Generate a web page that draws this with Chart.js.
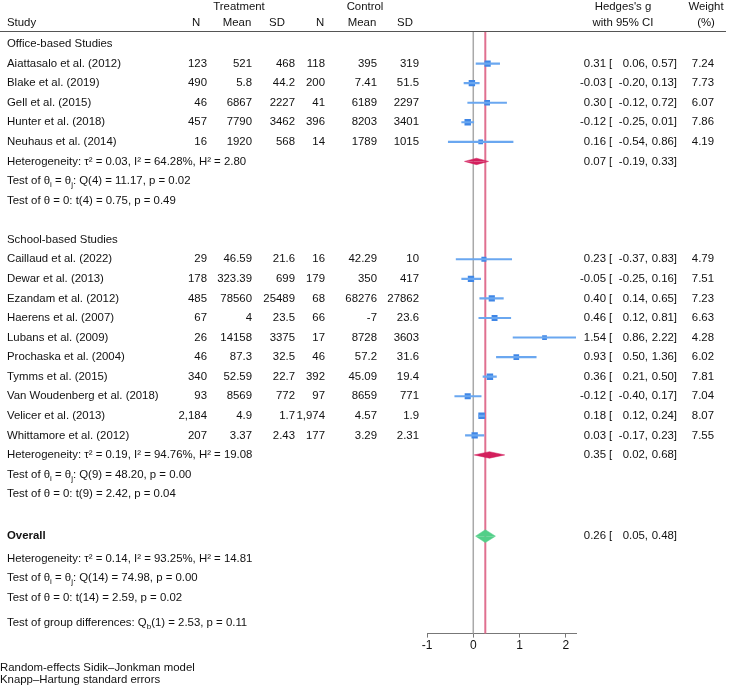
<!DOCTYPE html>
<html>
<head>
<meta charset="utf-8">
<script src="https://cdn.jsdelivr.net/npm/chart.js@4.4.1/dist/chart.umd.min.js"></script>
<style>
  html, body { margin: 0; padding: 0; background: #fff; }
  #wrap { width: 729px; height: 687px; }
</style>
</head>
<body>
<div id="wrap"><canvas id="forest" width="729" height="687"></canvas></div>
<script>
// Study data
const studies = [
  "Aiattasalo et al. (2012)", "Blake et al. (2019)", "Gell et al. (2015)",
  "Hunter et al. (2018)", "Neuhaus et al. (2014)",
  "Caillaud et al. (2022)", "Dewar et al. (2013)", "Ezandam et al. (2012)",
  "Haerens et al. (2007)", "Lubans et al. (2009)", "Prochaska et al. (2004)",
  "Tymms et al. (2015)", "Van Woudenberg et al. (2018)", "Velicer et al. (2013)",
  "Whittamore et al. (2012)"
];
const studyGroup = [0, 0, 0, 0, 0, 1, 1, 1, 1, 1, 1, 1, 1, 1, 1];
const treatN = ["123", "490", "46", "457", "16", "29", "178", "485", "67", "26", "46", "340", "93", "2,184", "207"];
const treatMean = ["521", "5.8", "6867", "7790", "1920", "46.59", "323.39", "78560", "4", "14158", "87.3", "52.59", "8569", "4.9", "3.37"];
const treatSD = ["468", "44.2", "2227", "3462", "568", "21.6", "699", "25489", "23.5", "3375", "32.5", "22.7", "772", "1.7", "2.43"];
const ctrlN = ["118", "200", "41", "396", "14", "16", "179", "68", "66", "17", "46", "392", "97", "1,974", "177"];
const ctrlMean = ["395", "7.41", "6189", "8203", "1789", "42.29", "350", "68276", "-7", "8728", "57.2", "45.09", "8659", "4.57", "3.29"];
const ctrlSD = ["319", "51.5", "2297", "3401", "1015", "10", "417", "27862", "23.6", "3603", "31.6", "19.4", "771", "1.9", "2.31"];
const hedgesG = [0.31, -0.03, 0.30, -0.12, 0.16, 0.23, -0.05, 0.40, 0.46, 1.54, 0.93, 0.36, -0.12, 0.18, 0.03];
const ciLow = [0.06, -0.20, -0.12, -0.25, -0.54, -0.37, -0.25, 0.14, 0.12, 0.86, 0.50, 0.21, -0.40, 0.12, -0.17];
const ciHigh = [0.57, 0.13, 0.72, 0.01, 0.86, 0.83, 0.16, 0.65, 0.81, 2.22, 1.36, 0.50, 0.17, 0.24, 0.23];
const weights = [7.24, 7.73, 6.07, 7.86, 4.19, 4.79, 7.51, 7.23, 6.63, 4.28, 6.02, 7.81, 7.04, 8.07, 7.55];

// Subgroup and overall summaries
const groups = ["Office-based Studies", "School-based Studies"];
const groupG = [0.07, 0.35];
const groupLow = [-0.19, 0.02];
const groupHigh = [0.33, 0.68];
const groupHet = [["0.03", "64.28", "2.80"], ["0.19", "94.76", "19.08"]];
const groupQ = [["4", "11.17", "0.02"], ["9", "48.20", "0.00"]];
const groupT = [["4", "0.75", "0.49"], ["9", "2.42", "0.04"]];
const overall = [0.26, 0.05, 0.48];
const overallHet = ["0.14", "93.25", "14.81"];
const overallQ = ["14", "74.98", "0.00"];
const overallT = ["14", "2.59", "0.02"];
const groupDiff = ["1", "2.53", "0.11"];
const xTicks = [-1, 0, 1, 2];

// Row layout
const studyRow = [];
const groupRow = [];
const groupSumRow = [];
let r = 0;
groups.forEach((g, gi) => {
  groupRow.push(r); r++;
  studies.forEach((s, i) => { if (studyGroup[i] === gi) { studyRow[i] = r; r++; } });
  groupSumRow.push(r); r += 4;
});
const overallRow = r + 0.15;
const overallStatRows = [overallRow + 1.15, overallRow + 2.15, overallRow + 3.15];
const groupDiffRow = overallRow + 4.45;

const blueSq = "#3f86e6";
const blueLine = "#6aa7f0";
const crimson = "#d31f5c";
const green = "#52cf88";

// diamond halves
function diamond(est, lo, hi, row, h, color) {
  const base = { type: "line", showLine: true, pointRadius: 0, borderWidth: 0.5,
    borderColor: color, backgroundColor: color, fill: { value: row }, tension: 0 };
  return [
    Object.assign({}, base, { data: [{ x: lo, y: row }, { x: est, y: row - h }, { x: hi, y: row }] }),
    Object.assign({}, base, { data: [{ x: lo, y: row }, { x: est, y: row + h }, { x: hi, y: row }] })
  ];
}

const datasets = [
  {
    type: "bar", indexAxis: "y",
    data: studies.map((s, i) => ({ y: studyRow[i], x: [ciLow[i], ciHigh[i]] })),
    backgroundColor: blueLine, barThickness: 1.5, borderWidth: 0
  },
  {
    type: "scatter",
    data: studies.map((s, i) => ({ x: hedgesG[i], y: studyRow[i] })),
    pointStyle: "rect",
    pointRadius: weights.map(w => 2.3 * Math.sqrt(w) / Math.SQRT2),
    backgroundColor: blueSq, borderColor: blueSq, borderWidth: 0
  }
];
groups.forEach((g, gi) => datasets.push(...diamond(groupG[gi], groupLow[gi], groupHigh[gi], groupSumRow[gi], 0.165, crimson)));
datasets.push(...diamond(overall[0], overall[1], overall[2], overallRow, 0.33, green));

const FAMILY = '"Liberation Sans", Helvetica, Arial, sans-serif';
const FONT = '11.4px ' + FAMILY;
const BOLD = 'bold 11.4px ' + FAMILY;
const SMALL = '8px ' + FAMILY;

function txt(ctx, s, x, y, align, font) {
  ctx.font = font || FONT;
  ctx.textAlign = align || "left";
  ctx.fillText(s, x, y);
}
// text with subscripts: parts are strings or {sub: "i"}
function rich(ctx, parts, x, y) {
  let cx = x;
  ctx.textAlign = "left";
  parts.forEach(p => {
    if (typeof p === "string") {
      ctx.font = FONT; ctx.fillText(p, cx, y); cx += ctx.measureText(p).width;
    } else {
      ctx.font = SMALL; ctx.fillText(p.sub, cx, y + 4); cx += ctx.measureText(p.sub).width;
    }
  });
}
function hetLine(h) { return "Heterogeneity: \u03C4\u00B2 = " + h[0] + ", I\u00B2 = " + h[1] + "%, H\u00B2 = " + h[2]; }
function qParts(q) { return ["Test of \u03B8", { sub: "i" }, " = \u03B8", { sub: "j" }, ": Q(" + q[0] + ") = " + q[1] + ", p = " + q[2]]; }
function tLine(t) { return "Test of \u03B8 = 0: t(" + t[0] + ") = " + t[1] + ", p = " + t[2]; }
function ciText(ctx, est, lo, hi, y) {
  txt(ctx, est.toFixed(2), 606, y, "right");
  txt(ctx, "[", 609, y, "left");
  txt(ctx, lo.toFixed(2) + ",", 648, y, "right");
  txt(ctx, hi.toFixed(2) + "]", 677, y, "right");
}

const forestPlugin = {
  id: "forestPlugin",
  beforeDatasetsDraw(chart) {
    const { ctx, chartArea, scales } = chart;
    ctx.save();
    ctx.lineWidth = 1.5;
    ctx.strokeStyle = "#a9a9a9";
    const x0 = scales.x.getPixelForValue(0);
    ctx.beginPath(); ctx.moveTo(x0, chartArea.top); ctx.lineTo(x0, chartArea.bottom); ctx.stroke();
    ctx.strokeStyle = "#e07090";
    ctx.lineWidth = 2;
    const xo = scales.x.getPixelForValue(overall[0]);
    ctx.beginPath(); ctx.moveTo(xo, chartArea.top); ctx.lineTo(xo, chartArea.bottom); ctx.stroke();
    ctx.restore();
  },
  afterDraw(chart) {
    const { ctx, scales } = chart;
    const Y = v => scales.y.getPixelForValue(v);
    ctx.save();
    ctx.fillStyle = "#111";
    ctx.textBaseline = "middle";
    // header
    txt(ctx, "Treatment", 239, 7, "center");
    txt(ctx, "Control", 365, 7, "center");
    txt(ctx, "Hedges's g", 623, 7, "center");
    txt(ctx, "Weight", 706, 7, "center");
    txt(ctx, "Study", 7, 23);
    [["N", 196], ["Mean", 237], ["SD", 277], ["N", 320], ["Mean", 362], ["SD", 405]]
      .forEach(h => txt(ctx, h[0], h[1], 23, "center"));
    txt(ctx, "with 95% CI", 623, 23, "center");
    txt(ctx, "(%)", 706, 23, "center");
    ctx.strokeStyle = "#555"; ctx.lineWidth = 1;
    ctx.beginPath(); ctx.moveTo(0, 31.5); ctx.lineTo(726, 31.5); ctx.stroke();

    groups.forEach((g, gi) => {
      txt(ctx, g, 7, Y(groupRow[gi]));
      const s = groupSumRow[gi];
      txt(ctx, hetLine(groupHet[gi]), 7, Y(s));
      ciText(ctx, groupG[gi], groupLow[gi], groupHigh[gi], Y(s));
      rich(ctx, qParts(groupQ[gi]), 7, Y(s + 1));
      txt(ctx, tLine(groupT[gi]), 7, Y(s + 2));
    });
    studies.forEach((s, i) => {
      const y = Y(studyRow[i]);
      txt(ctx, s, 7, y);
      txt(ctx, treatN[i], 207, y, "right");
      txt(ctx, treatMean[i], 252, y, "right");
      txt(ctx, treatSD[i], 295, y, "right");
      txt(ctx, ctrlN[i], 325, y, "right");
      txt(ctx, ctrlMean[i], 377, y, "right");
      txt(ctx, ctrlSD[i], 419, y, "right");
      ciText(ctx, hedgesG[i], ciLow[i], ciHigh[i], y);
      txt(ctx, weights[i].toFixed(2), 714, y, "right");
    });
    txt(ctx, "Overall", 7, Y(overallRow), "left", BOLD);
    ciText(ctx, overall[0], overall[1], overall[2], Y(overallRow));
    txt(ctx, hetLine(overallHet), 7, Y(overallStatRows[0]));
    rich(ctx, qParts(overallQ), 7, Y(overallStatRows[1]));
    txt(ctx, tLine(overallT), 7, Y(overallStatRows[2]));
    rich(ctx, ["Test of group differences: Q", { sub: "b" }, "(" + groupDiff[0] + ") = " + groupDiff[1] + ", p = " + groupDiff[2]], 7, Y(groupDiffRow));
    txt(ctx, "Random-effects Sidik\u2013Jonkman model", 0, 668);
    txt(ctx, "Knapp\u2013Hartung standard errors", 0, 680);
    ctx.restore();
  }
};

new Chart(document.getElementById("forest"), {
  type: "scatter",
  data: { datasets: datasets },
  options: {
    responsive: false,
    devicePixelRatio: 1,
    animation: false,
    events: [],
    layout: { padding: { left: 427, right: 153, top: 31, bottom: 33 } },
    plugins: { legend: { display: false }, tooltip: { enabled: false } },
    scales: {
      x: {
        type: "linear", min: -1, max: 2.22, offset: false,
        grid: { display: true, drawOnChartArea: false, drawTicks: true, tickLength: 4, color: "#777", offset: false },
        border: { display: true, color: "#777", width: 1 },
        afterBuildTicks: axis => { axis.ticks = xTicks.map(v => ({ value: v })); },
        ticks: { padding: 1, color: "#111", font: { family: FAMILY, size: 12 } }
      },
      y: { type: "linear", reverse: true, min: -0.665, max: 30.13, offset: false, display: false }
    }
  },
  plugins: [forestPlugin]
});
</script>
</body>
</html>
